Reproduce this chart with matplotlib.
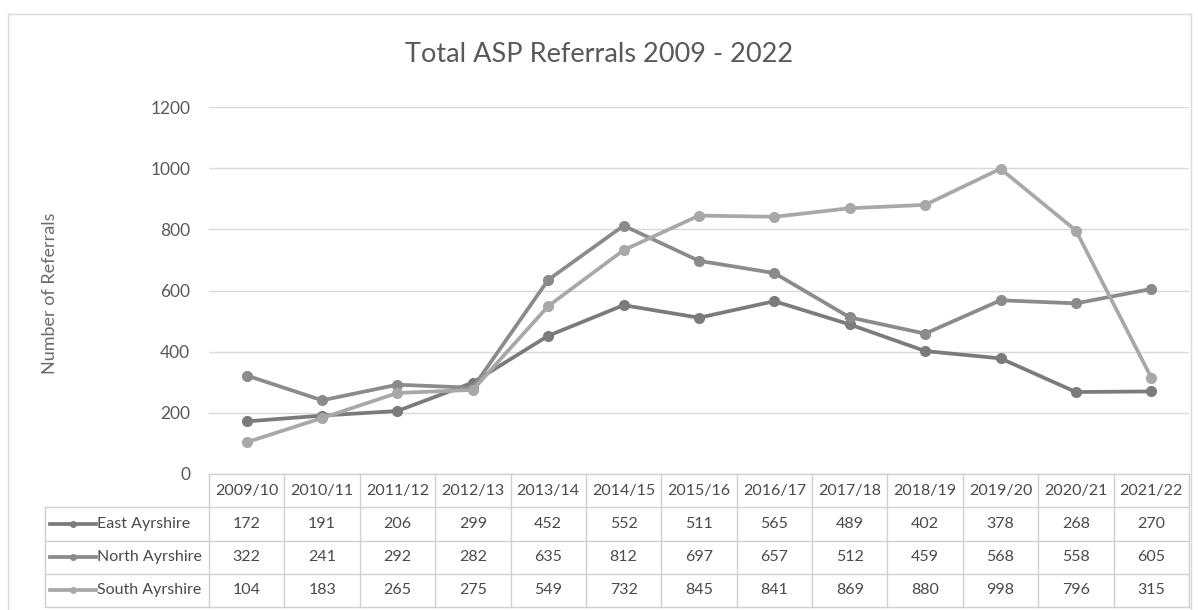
import matplotlib.pyplot as plt
from matplotlib.lines import Line2D

years = ["2009/10", "2010/11", "2011/12", "2012/13", "2013/14", "2014/15", "2015/16",
         "2016/17", "2017/18", "2018/19", "2019/20", "2020/21", "2021/22"]
east = [172, 191, 206, 299, 452, 552, 511, 565, 489, 402, 378, 268, 270]
north = [322, 241, 292, 282, 635, 812, 697, 657, 512, 459, 568, 558, 605]
south = [104, 183, 265, 275, 549, 732, 845, 841, 869, 880, 998, 796, 315]
names = ["East Ayrshire", "North Ayrshire", "South Ayrshire"]
colors = ["#7b7b7b", "#8b8b8b", "#a8a8a8"]

plt.rcParams['font.family'] = ['Lato', 'DejaVu Sans']
W, H = 1198, 610
fig = plt.figure(figsize=(W / 100, H / 100), dpi=100)

# outer chart border (bottom edge is cut off in the picture)
for xs, ys in [([8, 8], [14, 620]), ([8, 1191], [14, 14]), ([1191, 1191], [14, 620])]:
    fig.add_artist(Line2D([v / W for v in xs], [1 - v / H for v in ys], color="#d9d9d9", lw=1))

ax = fig.add_axes([209 / W, 1 - 474 / H, (1189 - 209) / W, (474 - 107) / H])
x = list(range(len(years)))
for vals, c in zip([east, north, south], colors):
    ax.plot(x, vals, color=c, lw=2.7, marker='o', ms=7, solid_capstyle='round')

ax.set_xlim(-0.5, len(years) - 0.5)
ax.set_ylim(0, 1200)
ax.set_yticks(range(0, 1201, 200))
ax.set_xticks([])
ax.yaxis.grid(True, color="#d9d9d9", lw=1)
ax.set_axisbelow(True)
for s in ax.spines.values():
    s.set_visible(False)
ax.tick_params(axis='y', length=0, pad=13.5, labelsize=12.5, labelcolor="#595959")

fig.text(0.5, 1 - 55 / H, "Total ASP Referrals 2009 - 2022", ha='center', va='center',
         fontsize=19.5, color="#595959")
fig.text(50 / W, 1 - 293 / H, "Number of Referrals", rotation=90, ha='center', va='center',
         fontsize=13, color="#6a6a6a")

# data table under the axis
tax = fig.add_axes([209 / W, 1 - 607 / H, (1189 - 209) / W, (607 - 474) / H])
tax.set_xlim(ax.get_xlim())
tax.set_ylim(4, 0)
tax.axis('off')
grid_c = "#d0d0d0"
n = len(years)
left = -0.5 - 164 / ((1189 - 209) / n)
tax.plot([-0.5, n - 0.5], [0, 0], color=grid_c, lw=1, clip_on=False)
for r in [1, 2, 3, 4]:
    tax.plot([left, n - 0.5], [r, r], color=grid_c, lw=1, clip_on=False)
tax.plot([left, left], [1, 4], color=grid_c, lw=1, clip_on=False)
for i in range(n + 1):
    tax.plot([i - 0.5, i - 0.5], [0, 4], color=grid_c, lw=1, clip_on=False)

txt_c = "#4a4a4a"
for i, yr in enumerate(years):
    tax.text(i, 0.5, yr, ha='center', va='center', fontsize=11.5, color=txt_c, clip_on=False)
for r, (vals, name, c) in enumerate(zip([east, north, south], names, colors)):
    yy = r + 1.5
    tax.plot([left + 0.07, left + 0.68], [yy, yy], color=c, lw=2.7, clip_on=False)
    tax.plot([left + 0.375], [yy], color=c, marker='o', ms=4, clip_on=False)
    tax.text(left + 0.69, yy, name, ha='left', va='center', fontsize=11.5, color=txt_c, clip_on=False)
    for i, v in enumerate(vals):
        tax.text(i, yy, str(v), ha='center', va='center', fontsize=11.5, color=txt_c, clip_on=False)

fig.savefig("out.png", dpi=100)
